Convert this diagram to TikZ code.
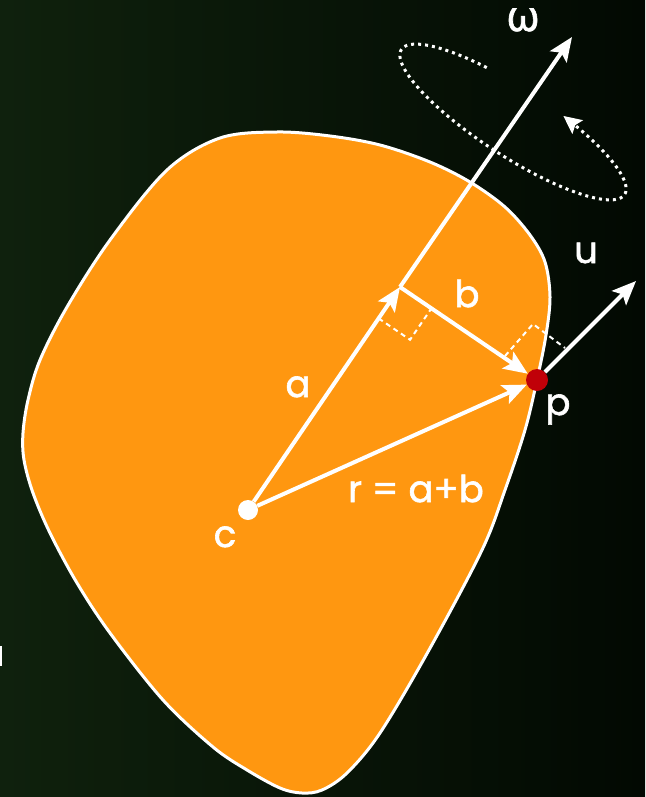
\documentclass[tikz,border=0pt]{standalone}
\usepackage{fontspec}
\setmainfont{Poppins}[FakeBold=1.6]
\newfontfamily\grfont{Noto Sans}[FakeBold=1.6]
\usetikzlibrary{arrows.meta,calc}
\definecolor{bgL}{HTML}{0F210D}
\definecolor{bgR}{HTML}{020902}
\definecolor{blobfill}{HTML}{FF9710}
\definecolor{pred}{HTML}{C00008}
\tikzset{
  vec/.style={line width=4pt, white, -{Stealth[length=24pt,width=20pt,inset=5pt]}},
  blobline/.style={line width=3pt, white, fill=blobfill},
  rightmark/.style={white, line width=2pt, dash pattern=on 5pt off 4pt},
  dotline/.style={white, line width=3pt, dash pattern=on 3pt off 4pt},
  cdot/.style={circle, fill=white, minimum size=20pt, inner sep=0pt},
  pdot/.style={circle, fill=pred, minimum size=22pt, inner sep=0pt},
  lbl/.style={white, anchor=base, inner sep=0pt, font=\fontsize{37}{40}\selectfont}
}
\begin{document}
\begin{tikzpicture}[x=1pt,y=-1pt]
\useasboundingbox (0,0) rectangle (645,797);
\shade[left color=bgL, right color=bgR] (0,0) rectangle (645,797);
\fill[white] (0,646) rectangle (2,666);
% blob
\draw[blobline] plot[smooth cycle, tension=0.55] coordinates {
 (220,138) (277,132) (330,136) (380,145) (430,162) (470,182) (505,207)
 (530,235) (545,262) (550,297) (546,335) (537,380) (525,430) (505,490)
 (482,550) (429,650) (380,733) (347,773) (322,790) (302,793) (280,788)
 (247,770) (213,747) (163,700) (110,633) (77,583) (50,533) (33,493)
 (24,460) (23,433) (28,400) (40,360) (67,307) (110,240) (167,170)};
% rotation ellipse
\draw[dotline, {Stealth[length=18pt,width=17pt,inset=3pt]}-]
  plot[domain=-73:249, samples=150, variable=\t]
  ({513+111.6*cos(\t)-18.5*sin(\t)},{122+72.5*cos(\t)+28.5*sin(\t)});
% points
\node[cdot] (C) at (248,510) {};
\node[pdot] (P) at (537,380) {};
\coordinate (A) at (400,287);
\coordinate (W) at (572,37);
\coordinate (U) at (636,281);
% right-angle marks
\coordinate (A1) at ($(A)!38pt!(C)$);
\coordinate (A2) at ($(A)!38pt!(P)$);
\draw[rightmark] (A1) -- ($(A1)+(A2)-(A)$) -- (A2);
\coordinate (P1) at (505,356);
\coordinate (P2) at (565,348);
\draw[rightmark] (P1) -- ($(P1)+(P2)-(P)$) -- (P2);
% vectors
\draw[vec] (C) -- (A);
\draw[vec] (A) -- (W);
\draw[vec] (A) -- (P);
\draw[vec] (C) -- (P);
\draw[vec] (P) -- (U);
% labels
\node[lbl] (la) at (298,397) {a};
\node[lbl] (lb) at (467,307) {b};
\node[lbl] (lc) at (225,547) {c};
\node[lbl] (lp) at (558,415) {p};
\node[lbl] (lu) at (586,263) {u};
\node[lbl, font=\grfont\fontsize{42}{44}\selectfont] (lw) at (523,31) {ω};
\node[lbl] (lr) at (416,502) {r = a+b};
\end{tikzpicture}
\end{document}
